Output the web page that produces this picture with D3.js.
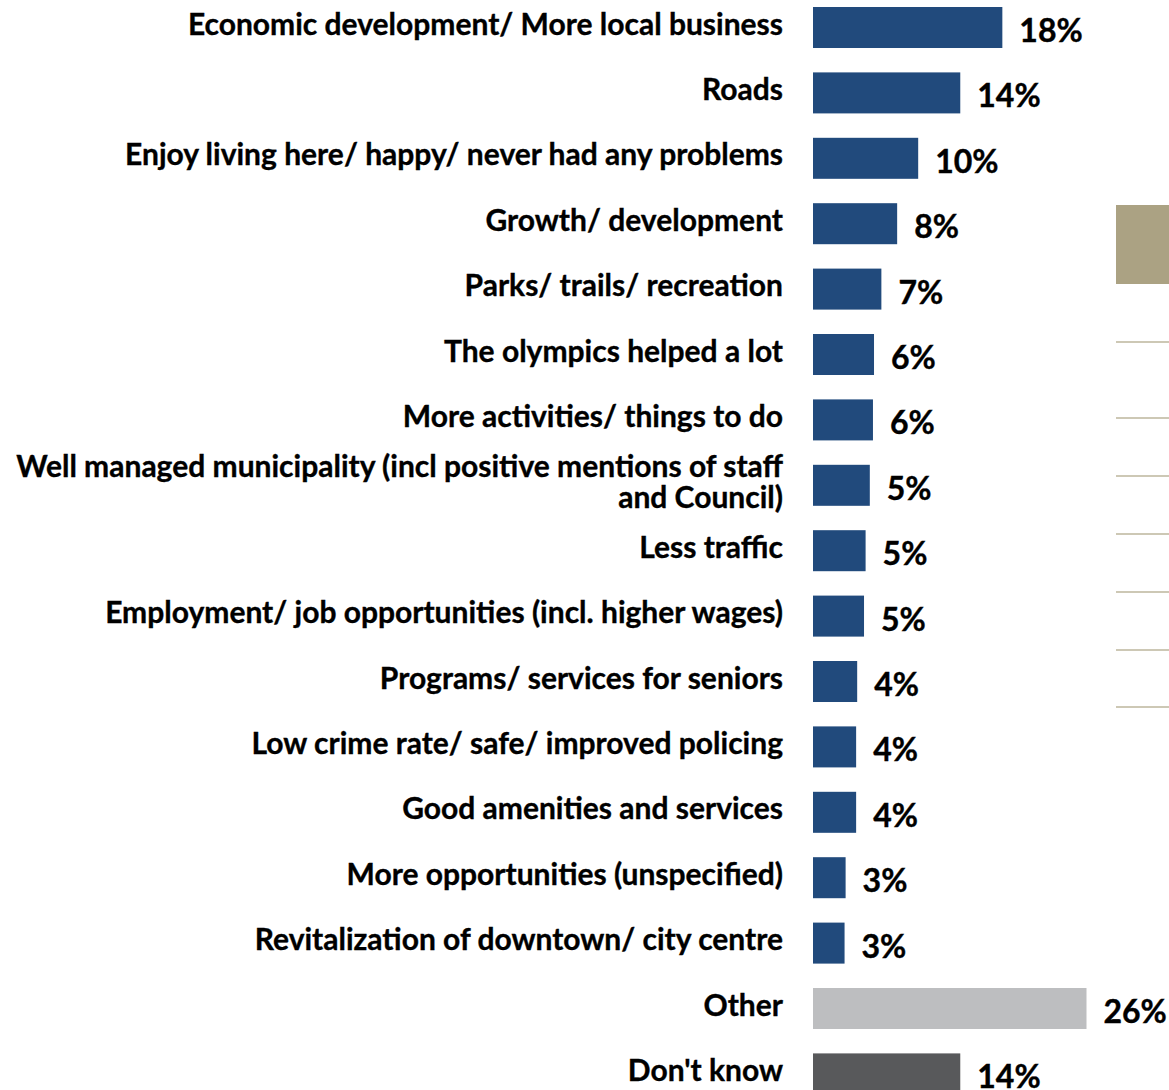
<!DOCTYPE html>
<html>
<head>
<meta charset="utf-8">
<script src="https://cdn.jsdelivr.net/npm/d3@7"></script>
<style>
  html, body { margin: 0; padding: 0; background: #ffffff; }
  svg { display: block; }
  text { font-family: Lato, "Open Sans", sans-serif; font-weight: 700; fill: #000; }
</style>
</head>
<body>
<svg id="chart" width="1169" height="1090"></svg>
<script>
const categories = [
  "Economic development/ More local business",
  "Roads",
  "Enjoy living here/ happy/ never had any problems",
  "Growth/ development",
  "Parks/ trails/ recreation",
  "The olympics helped a lot",
  "More activities/ things to do",
  "Well managed municipality (incl positive mentions of staff\nand Council)",
  "Less traffic",
  "Employment/ job opportunities (incl. higher wages)",
  "Programs/ services for seniors",
  "Low crime rate/ safe/ improved policing",
  "Good amenities and services",
  "More opportunities (unspecified)",
  "Revitalization of downtown/ city centre",
  "Other",
  "Don't know"
];
const values = [18, 14, 10, 8, 6.5, 5.8, 5.7, 5.4, 5.0, 4.85, 4.2, 4.1, 4.1, 3.1, 3.0, 26, 14];
const valueLabels = ["18%", "14%", "10%", "8%", "7%", "6%", "6%", "5%", "5%", "5%", "4%", "4%", "4%", "3%", "3%", "26%", "14%"];
const groups = ["main","main","main","main","main","main","main","main","main","main","main","main","main","main","main","other","dk"];
const groupColors = { main: "#214A7C", other: "#BDBEC0", dk: "#58595B" };

const svg = d3.select("#chart");

const x0 = 813;
const x = d3.scaleLinear().domain([0, 26]).range([x0, x0 + 273.5]);
const step = 65.4, pad = 0.373;
const yStart = 7 - step * pad / 2;
const y = d3.scaleBand().domain(categories)
  .range([yStart, yStart + step * categories.length])
  .paddingInner(pad).paddingOuter(pad / 2);

// decorative elements on right edge
svg.append("rect").attr("x", 1116).attr("y", 205).attr("width", 60).attr("height", 79).attr("fill", "#ABA283");
const decoLines = [342, 418, 476, 534, 592, 650, 707];
svg.selectAll("line.deco").data(decoLines).join("line")
  .attr("class", "deco")
  .attr("x1", 1116).attr("x2", 1169)
  .attr("y1", d => d).attr("y2", d => d)
  .attr("stroke", "#BDB69C").attr("stroke-width", 1.6);

const rows = categories.map((c, i) => ({ c, v: values[i], lab: valueLabels[i], g: groups[i] }));

svg.selectAll("rect.bar").data(rows).join("rect")
  .attr("class", "bar")
  .attr("x", x(0))
  .attr("y", d => y(d.c))
  .attr("width", d => x(d.v) - x(0))
  .attr("height", y.bandwidth())
  .attr("fill", d => groupColors[d.g]);

// category labels
const labelSize = 30;
const lineH = 31;
const catLabels = svg.selectAll("text.cat").data(rows).join("text")
  .attr("class", "cat")
  .attr("text-anchor", "end")
  .attr("font-size", labelSize)
  .attr("stroke", "#000").attr("stroke-width", 0.35);
catLabels.each(function(d) {
  const lines = d.c.split("\n");
  const cy = y(d.c) + y.bandwidth() / 2 - 5;
  const first = cy - (lines.length - 1) * lineH / 2;
  const t = d3.select(this);
  lines.forEach((ln, k) => {
    t.append("tspan").attr("x", 783).attr("y", first + k * lineH)
      .attr("dominant-baseline", "central").text(ln);
  });
});

// value labels
svg.selectAll("text.val").data(rows).join("text")
  .attr("class", "val")
  .attr("x", d => x(d.v) + 17)
  .attr("y", d => y(d.c) + y.bandwidth() / 2 + 2)
  .attr("dominant-baseline", "central")
  .attr("font-size", 32)
  .attr("stroke", "#000").attr("stroke-width", 0.4)
  .text(d => d.lab);
</script>
</body>
</html>
